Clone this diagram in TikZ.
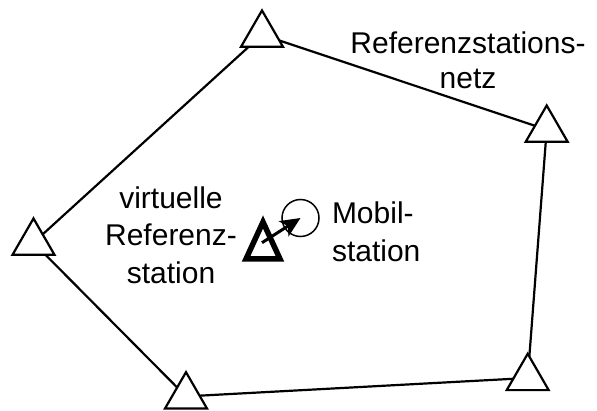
\documentclass[tikz,border=0pt]{standalone}
\usepackage{fontspec}
\setmainfont{Liberation Sans}
\usetikzlibrary{shapes.geometric,arrows.meta,calc}
\tikzset{
  station/.style={regular polygon, regular polygon sides=3, draw=black, line width=2.2pt,
    minimum size=48.5pt, inner sep=0pt, outer sep=0pt},
  netline/.style={draw=black, line width=2.2pt},
  lbl/.style={inner sep=0pt, outer sep=0pt},
  mobile/.style={circle, draw=black, line width=1.5pt, minimum size=37pt, inner sep=0pt, outer sep=0pt},
  vrs/.style={draw=black, line width=5.5pt, miter limit=10, line join=miter},
  vector/.style={draw=black, line width=3pt, -{Stealth[length=20pt,width=18pt,inset=5pt]}}
}
\begin{document}
\begin{tikzpicture}[x=1pt,y=1pt]
\useasboundingbox (0,0) rectangle (597,410);
% reference stations
\node[station] (t1) at (262,375.3) {};
\node[station] (t2) at (33.5,167.3) {};
\node[station] (t3) at (546.7,280.3) {};
\node[station] (t4) at (527.7,32) {};
\node[station] (t5) at (186,13.6) {};
\draw[netline] (t1) -- (t2);
\draw[netline] (t1) -- (t3);
\draw[netline] (t3) -- (t4);
\draw[netline] (t4) -- (t5);
\draw[netline] (t5) -- (t2);
% virtual reference station
\coordinate (vr) at (263,163.3);
\draw[vrs] ($(vr)+(0,24.7)$) -- ($(vr)+(-17,-12.3)$) -- ($(vr)+(17,-12.3)$) -- cycle;
% mobile station
\node[mobile] (ms) at (300.5,192) {};
\draw[vector] ($(vr)+(-1,4)$) -- (ms.center);
% labels
\node[lbl, align=center, anchor=base, font=\fontsize{30}{35}\selectfont] (lnet) at (468,321.7) {Referenzstations-\\netz};
\node[lbl, align=center, anchor=base, font=\fontsize{30}{37.5}\selectfont] (lvrs) at (171,126.7) {virtuelle\\Referenz-\\station};
\node[lbl, align=left, anchor=base west, font=\fontsize{30}{38.4}\selectfont] (lms) at (332,148.3) {Mobil-\\station};
\end{tikzpicture}
\end{document}
